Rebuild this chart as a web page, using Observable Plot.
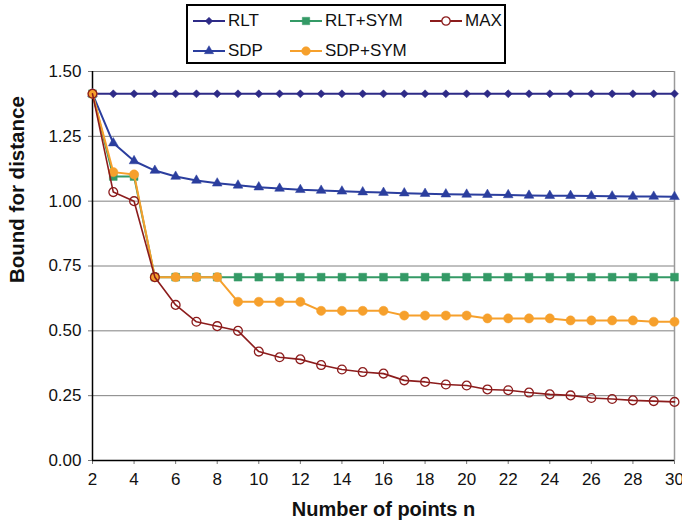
<!DOCTYPE html>
<html><head><meta charset="utf-8">
<script src="https://cdn.jsdelivr.net/npm/d3@7"></script>
<script src="https://cdn.jsdelivr.net/npm/@observablehq/plot@0.6"></script>
<style>
body{margin:0;background:#fff;font-family:"Liberation Sans",Arial,Helvetica,sans-serif;}
#wrap{position:relative;width:682px;height:524px;}
#chart{position:absolute;left:0;top:0;}
#legend{position:absolute;left:186px;top:4px;width:320px;height:60px;border:2px solid #000;box-sizing:border-box;background:#fff;}
</style></head><body>
<div id="wrap"><div id="chart"></div><div id="legend"></div></div>
<script>
// ---- data ----
const nPoints = [2,3,4,5,6,7,8,9,10,11,12,13,14,15,16,17,18,19,20,21,22,23,24,25,26,27,28,29,30];
const rlt    = [1.414,1.414,1.414,1.414,1.414,1.414,1.414,1.414,1.414,1.414,1.414,1.414,1.414,1.414,1.414,1.414,1.414,1.414,1.414,1.414,1.414,1.414,1.414,1.414,1.414,1.414,1.414,1.414,1.414];
const sdp    = [1.414,1.224,1.155,1.118,1.095,1.080,1.069,1.061,1.054,1.049,1.044,1.041,1.038,1.035,1.033,1.031,1.029,1.027,1.026,1.025,1.024,1.022,1.021,1.021,1.020,1.019,1.018,1.018,1.017];
const rltSym = [1.414,1.095,1.095,0.707,0.707,0.707,0.707,0.707,0.707,0.707,0.707,0.707,0.707,0.707,0.707,0.707,0.707,0.707,0.707,0.707,0.707,0.707,0.707,0.707,0.707,0.707,0.707,0.707,0.707];
const sdpSym = [1.414,1.112,1.103,0.707,0.707,0.707,0.707,0.612,0.612,0.612,0.612,0.577,0.577,0.577,0.577,0.559,0.559,0.559,0.559,0.548,0.548,0.548,0.548,0.540,0.540,0.540,0.540,0.535,0.535];
const maxB   = [1.414,1.035,1.000,0.707,0.600,0.535,0.518,0.500,0.420,0.398,0.390,0.368,0.351,0.341,0.335,0.309,0.303,0.293,0.289,0.274,0.271,0.262,0.255,0.251,0.241,0.237,0.232,0.229,0.226];
const seriesNames = ["RLT","SDP","RLT+SYM","SDP+SYM","MAX"];
const xTicks = [2,4,6,8,10,12,14,16,18,20,22,24,26,28,30];
const yTicks = [0,0.25,0.5,0.75,1.0,1.25,1.5];
const xLabel = "Number of points n";
const yLabel = "Bound for distance";

// ---- styles ----
const styles = {
  "RLT":     {color:"#2E2B87", symbol:"diamond2", r:3.6, fill:true},
  "SDP":     {color:"#2B3E9E", symbol:"triangle", r:3.6, fill:true},
  "RLT+SYM": {color:"#349A66", symbol:"square",   r:4.4, fill:true},
  "SDP+SYM": {color:"#F6A02C", symbol:"circle",   r:4.6, fill:true},
  "MAX":     {color:"#8C1C1C", symbol:"circle",   r:4.4, fill:false}
};
const valuesBy = {"RLT":rlt,"SDP":sdp,"RLT+SYM":rltSym,"SDP+SYM":sdpSym,"MAX":maxB};
const rows = s => nPoints.map((n,i)=>({n, v: valuesBy[s][i], s}));

const font = '"Liberation Sans", Arial, Helvetica, sans-serif';
const marks = [
  Plot.gridY(yTicks.filter(v=>v>0), {stroke:"#808080", strokeOpacity:1, strokeWidth:1}),
  Plot.ruleX([30], {stroke:"#9a9a9a", strokeWidth:1.5}),
  Plot.axisY({ticks:yTicks, tickFormat:d3.format(".2f"), tickSize:4, tickPadding:7, label:null, fontSize:17, stroke:"#777"}),
  Plot.axisX({ticks:xTicks, tickSize:4, tickPadding:8, label:null, fontSize:17, stroke:"#777"}),
  Plot.ruleY([0], {stroke:"#000", strokeWidth:1.5}),
  Plot.ruleX([2], {stroke:"#000", strokeWidth:1.5})
];
for (const s of seriesNames) {
  const st = styles[s];
  const d = rows(s);
  marks.push(Plot.line(d, {x:"n", y:"v", stroke:st.color, strokeWidth: s==="MAX"?1.6:2}));
  marks.push(Plot.dot(d, {x:"n", y:"v", symbol:()=>st.symbol, r:st.r,
    fill: st.fill ? st.color : "none", stroke: st.color, strokeWidth: st.fill?0.5:1.3}));
}
marks.push(Plot.text([xLabel], {frameAnchor:"bottom", dy:55, fontSize:20, fontWeight:"bold", fill:"#111"}));
marks.push(Plot.text([yLabel], {frameAnchor:"left", dx:-75, dy:17, rotate:-90, fontSize:20.5, fontWeight:"bold", fill:"#111"}));

const chart = Plot.plot({
  width:682, height:524,
  marginLeft:92, marginRight:8, marginTop:71, marginBottom:64,
  style:{fontFamily:font, fontSize:"17px", color:"#111", background:"#fff"},
  x:{domain:[2,30]},
  y:{domain:[0,1.5]},
  symbol:{type:"identity"},
  marks
});
document.getElementById("chart").appendChild(chart);

// ---- legend ----
const legend = d3.select("#legend");
const pos = {
  "RLT":     {x:5,   y:15},
  "RLT+SYM": {x:102, y:15},
  "MAX":     {x:242, y:15},
  "SDP":     {x:5,   y:45},
  "SDP+SYM": {x:102, y:45}
};
const symMap = {diamond2:d3.symbolDiamond2, triangle:d3.symbolTriangle, square:d3.symbolSquare, circle:d3.symbolCircle};
for (const s of seriesNames) {
  const st = styles[s], p = pos[s];
  const item = legend.append("div").style("position","absolute").style("left",p.x+"px").style("top",(p.y-9)+"px")
    .style("height","18px").style("display","flex").style("align-items","center");
  const svg = item.append("svg").attr("width",32).attr("height",18);
  svg.append("line").attr("x1",0).attr("x2",32).attr("y1",9).attr("y2",9).attr("stroke",st.color).attr("stroke-width",2);
  svg.append("path").attr("transform","translate(16,9)")
    .attr("d", d3.symbol(symMap[st.symbol], Math.PI*st.r*st.r*0.9)())
    .attr("fill", st.fill?st.color:"#fff").attr("stroke",st.color).attr("stroke-width",st.fill?0.5:1.3);
  item.append("span").text(s).style("font-size","17px").style("margin-left","3px").style("color","#111");
}
</script>
</body></html>
